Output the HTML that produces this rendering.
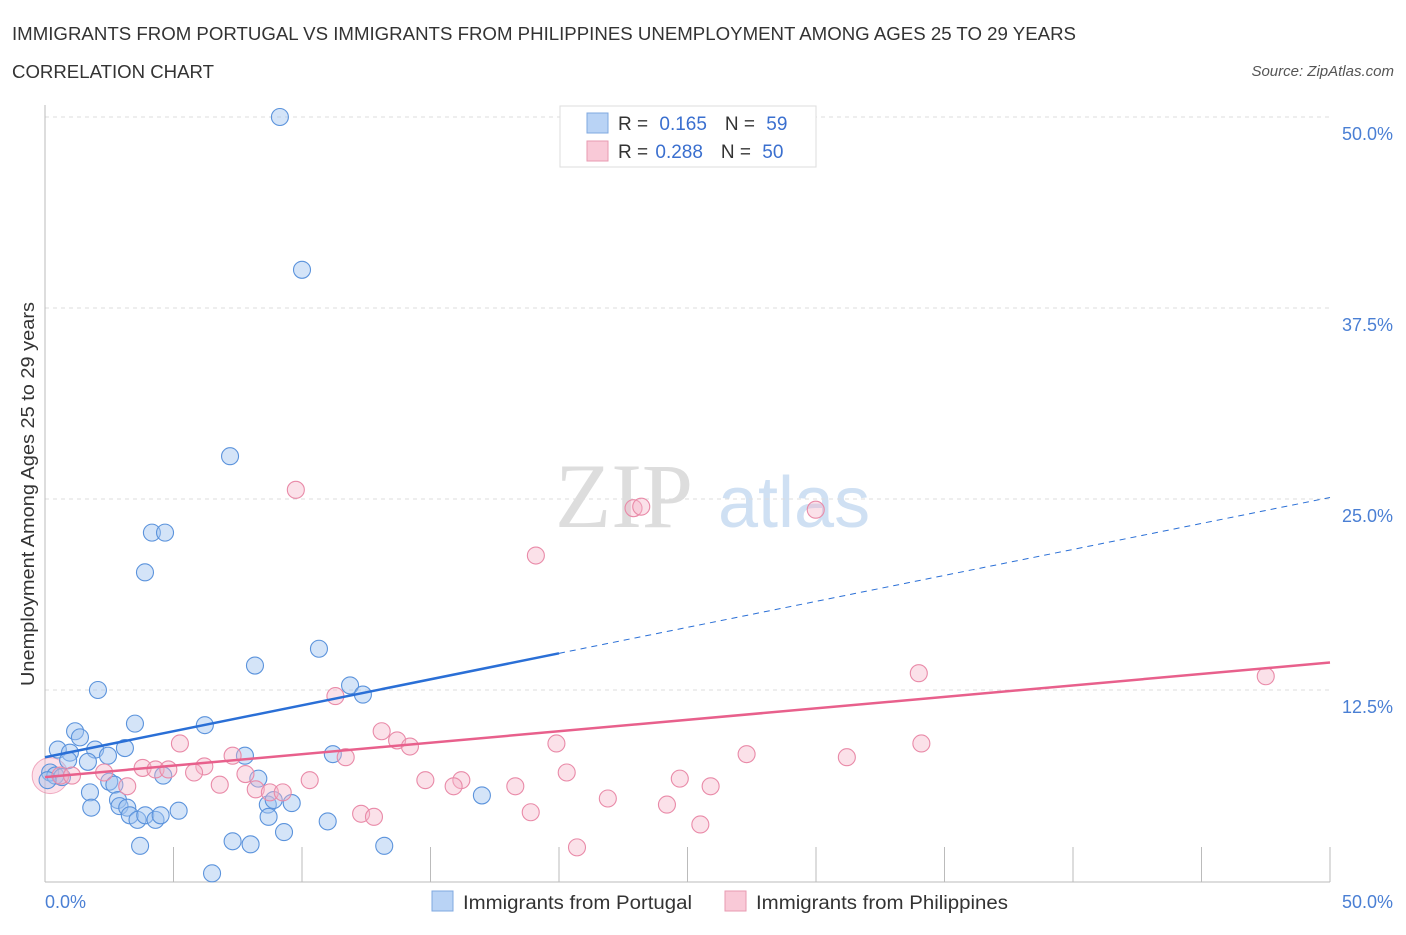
<!DOCTYPE html>
<html><head><meta charset="utf-8"><style>
body{margin:0;background:#fff;font-family:"Liberation Sans",sans-serif}
</style></head><body>
<svg width="1406" height="930" xmlns="http://www.w3.org/2000/svg" id="chart">
<text x="12" y="40" font-size="18" fill="#333" textLength="1064" lengthAdjust="spacingAndGlyphs">IMMIGRANTS FROM PORTUGAL VS IMMIGRANTS FROM PHILIPPINES UNEMPLOYMENT AMONG AGES 25 TO 29 YEARS</text>
<text x="12" y="78" font-size="18" fill="#333" textLength="202" lengthAdjust="spacingAndGlyphs">CORRELATION CHART</text>
<text x="1394" y="76" font-size="15" fill="#555" font-style="italic" text-anchor="end">Source: ZipAtlas.com</text>
<g><text x="555" y="527" font-size="92" font-family="Liberation Serif,serif" fill="#ddd">ZIP</text><text x="718" y="527" font-size="72" fill="#cfe0f3">atlas</text></g>
<g id="grid"></g>
<line x1="45" y1="105" x2="45" y2="882" stroke="#bbb"/>
<line x1="45" y1="882" x2="1330" y2="882" stroke="#bbb"/>
<g id="ticks"></g>
<text x="34" y="494" font-size="18" fill="#333" text-anchor="middle" textLength="384" lengthAdjust="spacingAndGlyphs" transform="rotate(-90 34 494)">Unemployment Among Ages 25 to 29 years</text>
<text x="45" y="908" font-size="18" fill="#4a7fd4">0.0%</text>
<text x="1393" y="908" font-size="18" fill="#4a7fd4" text-anchor="end">50.0%</text>
<g id="marks"></g>
<g>
<rect x="560" y="106" width="256" height="61" fill="#fff" stroke="#ddd"/>
<rect x="587" y="113" width="21" height="20" fill="#b9d3f5" stroke="#7fa8e0"/>
<rect x="587" y="141" width="21" height="20" fill="#f9c9d7" stroke="#e89ab2"/>
<text x="618" y="130" font-size="19" fill="#333">R = <tspan fill="#3a6fcf" dx="6">0.165</tspan><tspan dx="18" fill="#333">N = </tspan><tspan fill="#3a6fcf" dx="6">59</tspan></text>
<text x="618" y="158" font-size="19" fill="#333">R = <tspan fill="#3a6fcf" dx="2">0.288</tspan><tspan dx="18" fill="#333">N = </tspan><tspan fill="#3a6fcf" dx="6">50</tspan></text>
</g>
<g><rect x="432" y="891" width="21" height="20" fill="#b9d3f5" stroke="#7fa8e0"/><text x="463" y="909" font-size="19" fill="#333" textLength="229" lengthAdjust="spacingAndGlyphs">Immigrants from Portugal</text></g>
<g><rect x="725" y="891" width="21" height="20" fill="#f9c9d7" stroke="#e89ab2"/><text x="756" y="909" font-size="19" fill="#333" textLength="252" lengthAdjust="spacingAndGlyphs">Immigrants from Philippines</text></g>
</svg>
<script>
const yTicks=[12.5,25,37.5,50];
const xTickVals=[5,10,15,20,25,30,35,40,45,50];
const blueX=[9.14,10.0,7.2,4.16,4.67,3.89,10.66,8.17,2.06,11.87,12.37,3.5,6.22,1.17,1.36,0.5,0.97,1.95,3.11,2.45,1.67,7.78,11.2,0.9,0.2,0.4,0.66,0.1,2.5,2.7,4.6,8.3,1.75,2.84,2.9,1.8,3.2,3.3,3.6,3.9,4.3,4.5,5.2,8.67,8.9,9.6,8.7,11.0,17.0,9.3,3.7,7.3,8.0,13.2,6.5];
const blueY=[50.0,40.0,27.8,22.8,22.8,20.2,15.2,14.1,12.5,12.8,12.2,10.3,10.2,9.8,9.4,8.6,8.4,8.6,8.7,8.2,7.8,8.2,8.3,7.9,7.1,6.9,6.8,6.6,6.5,6.3,6.9,6.7,5.8,5.3,4.9,4.8,4.8,4.3,4.0,4.3,4.0,4.3,4.6,5.0,5.3,5.1,4.2,3.9,5.6,3.2,2.3,2.6,2.4,2.3,0.5];
const pinkX=[9.76,22.9,23.2,29.99,19.1,34.0,47.5,11.3,13.1,13.7,14.2,5.25,19.9,34.1,27.3,31.2,7.3,11.7,6.2,3.8,4.3,4.8,5.8,7.8,20.3,2.3,0.6,1.05,16.2,10.3,24.7,14.8,6.8,3.2,8.2,8.75,9.25,15.9,18.3,25.9,21.9,24.2,18.9,12.3,12.8,25.5,20.7];
const pinkY=[25.6,24.4,24.5,24.3,21.3,13.6,13.4,12.1,9.8,9.2,8.8,9.0,9.0,9.0,8.3,8.1,8.2,8.1,7.5,7.4,7.3,7.3,7.1,7.0,7.1,7.1,6.9,6.9,6.6,6.6,6.7,6.6,6.3,6.2,6.0,5.8,5.8,6.2,6.2,6.2,5.4,5.0,4.5,4.4,4.2,3.7,2.2];
const blueTrend=[8.1,25.1];
const pinkTrend=[6.8,14.3];
const ns="http://www.w3.org/2000/svg";
const sx=v=>45+v/50*1285, sy=v=>881-v/12.5*191;
function mk(t,p,a){const e=document.createElementNS(ns,t);for(const k in a)e.setAttribute(k,a[k]);p.appendChild(e);return e;}
const grid=document.getElementById('grid'),ticks=document.getElementById('ticks'),marks=document.getElementById('marks');
yTicks.forEach(v=>{
 const l=mk('line',grid,{x1:45,x2:1330,y1:sy(v),y2:sy(v),stroke:'#ddd','stroke-dasharray':'4 4'});
 
 
 const t=mk('text',grid,{x:1393,y:sy(v)+23,'font-size':18,fill:'#4a7fd4','text-anchor':'end'});
 t.textContent=v.toFixed(1)+'%';
 
 
});
xTickVals.forEach(v=>{
 const l=mk('line',ticks,{x1:sx(v),x2:sx(v),y1:847,y2:882,stroke:'#bbb'});
 
 
});
mk('circle',marks,{cx:sx(0.2),cy:sy(6.9),r:18,fill:'rgba(246,170,195,0.35)',stroke:'rgba(230,120,155,0.6)'});
blueX.forEach((x,i)=>{
 const c=mk('circle',marks,{cx:sx(x),cy:sy(blueY[i]),r:8.5,fill:'rgba(160,196,240,0.45)',stroke:'#5b93dc','stroke-width':1.1});
 
 
});
pinkX.forEach((x,i)=>{
 const c=mk('circle',marks,{cx:sx(x),cy:sy(pinkY[i]),r:8.5,fill:'rgba(246,180,200,0.4)',stroke:'#e98aa8','stroke-width':1.1});
 
 
});
const bAt=x=>blueTrend[0]+(blueTrend[1]-blueTrend[0])*x/50;
const pAt=x=>pinkTrend[0]+(pinkTrend[1]-pinkTrend[0])*x/50;
const bs=mk('line',marks,{x1:sx(0),y1:sy(bAt(0)),x2:sx(20),y2:sy(bAt(20)),stroke:'#2a6fd6','stroke-width':2.5});


const bd=mk('line',marks,{x1:sx(20),y1:sy(bAt(20)),x2:sx(50),y2:sy(bAt(50)),stroke:'#2a6fd6','stroke-width':1,'stroke-dasharray':'6 5'});


const pl=mk('line',marks,{x1:sx(0),y1:sy(pAt(0)),x2:sx(50),y2:sy(pAt(50)),stroke:'#e8608c','stroke-width':2.5});


</script>
</body></html>
